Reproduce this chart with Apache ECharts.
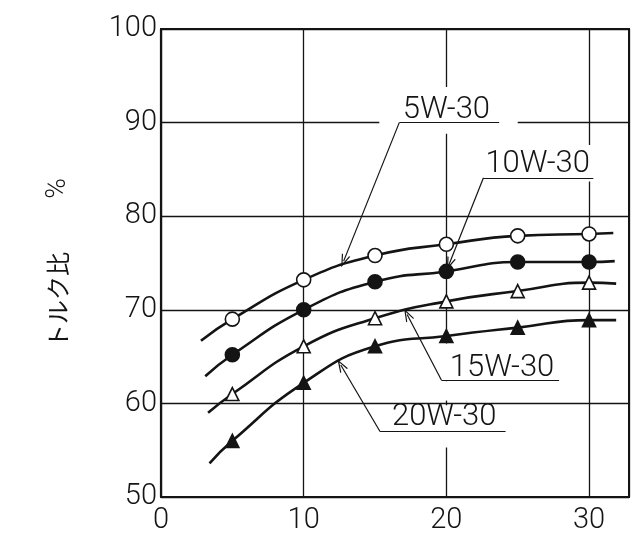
<!DOCTYPE html>
<html><head><meta charset="utf-8">
<script src="https://cdn.jsdelivr.net/npm/echarts@6/dist/echarts.min.js"></script>
<style>html,body{margin:0;padding:0;background:#fff}#c{width:635px;height:540px}</style>
</head><body><div id="c"></div>
<script>
// measured points (x positions and torque ratio %)
const xMeasured = [5, 10, 15, 20, 25, 30];
const oil5W30  = [69.0, 73.2, 75.8, 77.0, 77.9, 78.1];
const oil10W30 = [65.2, 70.0, 73.0, 74.1, 75.1, 75.1];
const oil15W30 = [61.0, 66.1, 69.1, 70.9, 72.0, 72.9];
const oil20W30 = [56.0, 62.2, 66.1, 67.2, 68.1, 68.9];
// where each drawn curve begins and ends
const curveStartX = [2.8, 3.1, 3.3, 3.4];
const curveStartY = [66.7, 62.9, 59.0, 53.6];
const curveEndX   = [31.7, 31.8, 31.9, 31.9];
const curveEndY   = [78.2, 75.2, 72.8, 68.9];
const seriesNames = ['5W-30', '10W-30', '15W-30', '20W-30'];
const xTicks = [0, 10, 20, 30];
const yTicks = [50, 60, 70, 80, 90, 100];
const yName = 'トルク比　　 {p|%}';

const seriesValues = [oil5W30, oil10W30, oil15W30, oil20W30];
const symbols = ['circle', 'circle', 'triangle', 'triangle'];
const filled = [false, true, false, true];

// annotation layout (data coordinates)
const annotations = [
  {cx: 20.0, cy: 91.3, ul: [16.7, 23.7, 90.0], tip: [12.8, 75.2], box: [15.3, 25.0, 88.8, 93.8]},
  {cx: 26.4, cy: 85.6, ul: [22.6, 30.3, 84.1], tip: [20.2, 74.9], box: [22.0, 31.2, 83.7, 87.6]},
  {cx: 23.9, cy: 63.8, ul: [19.65, 27.9, 62.5], tip: [17.25, 69.5], box: [19.3, 28.3, 62.3, 66.4]},
  {cx: 19.85, cy: 58.5, ul: [15.35, 24.15, 57.0], tip: [12.6, 64.1], box: [15.0, 24.6, 55.3, 59.8]}
];
const extraBoxes = [[19.3, 20.7, 60.3, 62.3]];

const INK = '#141414';
const tickFont = 'Roboto, "Liberation Sans", sans-serif';
const openArrow = 'path://M5,0 L10,12 L8.6,12 L5,3.4 L1.4,12 L0,12 Z';

const series = seriesNames.map((name, i) => {
  const data = [{value: [curveStartX[i], curveStartY[i]], symbol: 'none'}];
  xMeasured.forEach((x, j) => data.push([x, seriesValues[i][j]]));
  data.push({value: [curveEndX[i], curveEndY[i]], symbol: 'none'});
  const a = annotations[i];
  return {
    name, type: 'line', smooth: 0.5, data,
    symbol: symbols[i],
    symbolSize: symbols[i] === 'circle' ? 14 : 13,
    showAllSymbol: true,
    lineStyle: {color: INK, width: 2.6},
    itemStyle: {color: filled[i] ? INK : '#fff', borderColor: INK, borderWidth: 1.6},
    animation: false,
    silent: true,
    markLine: {
      silent: true, animation: false,
      label: {show: false},
      lineStyle: {color: INK, width: 1.2, type: 'solid'},
      data: [
        [{coord: [a.ul[0], a.ul[2]], symbol: 'none'}, {coord: a.tip, symbol: openArrow, symbolSize: [9, 13]}],
        [{coord: [a.ul[0], a.ul[2]], symbol: 'none'}, {coord: [a.ul[1], a.ul[2]], symbol: 'none'}]
      ]
    }
  };
});

const option = {
  backgroundColor: '#ffffff',
  animation: false,
  grid: {left: 161, right: 6, top: 29, bottom: 43, show: true, borderColor: INK, borderWidth: 2,
         containLabel: false, outerBoundsMode: 'none'},
  xAxis: {
    type: 'value', min: xTicks[0], max: 32.8, interval: 10,
    axisLine: {show: true, lineStyle: {color: INK, width: 2.2}},
    axisTick: {show: false},
    splitLine: {show: true, lineStyle: {color: INK, width: 1.3}},
    axisLabel: {fontSize: 29, fontFamily: tickFont, fontWeight: 300, color: INK, margin: 9,
                formatter: v => xTicks.includes(v) ? String(v) : ''}
  },
  yAxis: {
    type: 'value', min: yTicks[0], max: yTicks[yTicks.length - 1], interval: 10,
    name: yName, nameLocation: 'middle', nameRotate: 90, nameGap: 89,
    nameTextStyle: {fontFamily: '"Noto Sans CJK JP", sans-serif', fontSize: 24, color: INK, fontWeight: 400,
      rich: {p: {fontFamily: 'Roboto, "Liberation Sans", sans-serif', fontSize: 28, fontWeight: 300, color: INK}}},
    axisLine: {show: true, lineStyle: {color: INK, width: 2.2}},
    axisTick: {show: false},
    splitLine: {show: true, lineStyle: {color: INK, width: 1.3}},
    axisLabel: {fontSize: 29, fontFamily: tickFont, fontWeight: 300, color: INK, margin: 4,
                formatter: v => yTicks.includes(v) ? String(v) : ''}
  },
  series
};

const chart = echarts.init(document.getElementById('c'), null, {renderer: 'canvas'});
chart.setOption(option);

const P = (x, y) => chart.convertToPixel({gridIndex: 0}, [x, y]);
const graphics = [];
const addBox = b => {
  const p1 = P(b[0], b[3]), p2 = P(b[1], b[2]);
  graphics.push({type: 'rect', z: 1, silent: true,
    shape: {x: p1[0], y: p1[1], width: p2[0] - p1[0], height: p2[1] - p1[1]},
    style: {fill: '#ffffff'}});
};
annotations.forEach(a => addBox(a.box));
extraBoxes.forEach(addBox);
annotations.forEach((a, i) => {
  const p = P(a.cx, a.cy);
  graphics.push({type: 'text', z: 5, silent: true, x: p[0], y: p[1],
    style: {text: seriesNames[i], fontSize: 31, fontWeight: 300, fontFamily: 'Roboto, "Liberation Sans", sans-serif',
            fill: INK, align: 'center', verticalAlign: 'middle'}});
});
chart.setOption({graphic: graphics});
</script>
</body></html>
